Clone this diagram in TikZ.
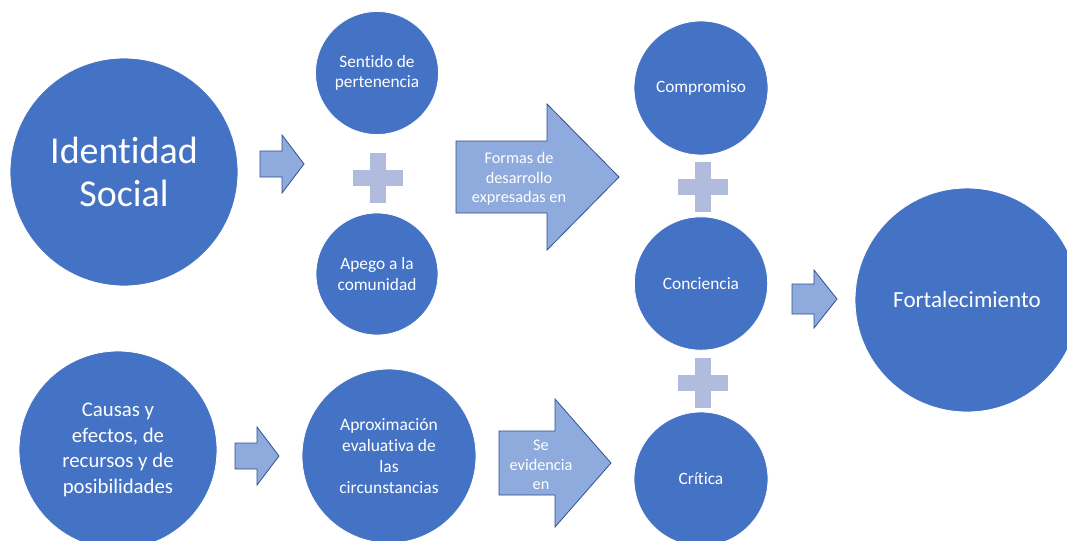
\documentclass[tikz,border=0pt]{standalone}
\usepackage{fontspec}
\setmainfont{Carlito}[Ligatures={NoCommon,NoRare,NoDiscretionary}]
\definecolor{circblue}{HTML}{4472C4}
\definecolor{arrfill}{HTML}{8FAADC}
\definecolor{arrline}{HTML}{2F528F}
\definecolor{plusc}{HTML}{B0BBDD}
\tikzset{
  bubble/.style={circle, fill=circblue, draw=white, line width=0.6pt, inner sep=0pt, text=white, align=center},
  blockarrow/.style={fill=arrfill, draw=arrline, line width=0.6pt, line join=miter},
  plussign/.style={fill=plusc, draw=none},
  arrowtext/.style={text=white, align=center, inner sep=0pt, font=\fontsize{12.2pt}{14.6pt}\selectfont},
  smalltext/.style={font=\fontsize{13pt}{15.3pt}\selectfont},
}
\begin{document}
\begin{tikzpicture}[x=0.75pt, y=-0.75pt]
\useasboundingbox (0,0) rectangle (1067,540);
\clip (0,0) rectangle (1067,540);
\fill[white] (0,0) rectangle (1067,540);

% circles
\node[bubble, minimum size=171pt, font=\fontsize{28.5pt}{32.3pt}\selectfont] (ident) at (124,172) {Identidad\\Social};
\node[bubble, minimum size=92.25pt, smalltext] (sentido) at (377,73) {Sentido de\\pertenencia};
\node[bubble, minimum size=91.5pt, smalltext] (apego) at (377,274) {Apego a la\\comunidad};
\node[bubble, minimum size=148.5pt, font=\fontsize{15.6pt}{19.3pt}\selectfont] (causas) at (118,450) {Causas y\\efectos, de\\recursos y de\\posibilidades};
\node[bubble, minimum size=130.5pt, font=\fontsize{13.1pt}{15.75pt}\selectfont] (aprox) at (389,456) {Aproximación\\evaluativa de\\las\\circunstancias};
\node[bubble, minimum size=100.5pt, smalltext] (compromiso) at (701,88) {Compromiso};
\node[bubble, minimum size=100pt, smalltext] (conciencia) at (701,283.5) {Conciencia};
\node[bubble, minimum size=100.5pt, smalltext] (critica) at (701,479) {Crítica};
\node[bubble, minimum size=168pt, font=\fontsize{17.3pt}{20.8pt}\selectfont] (fortal) at (967,300) {Fortalecimiento};

% block arrows
\draw[blockarrow] (260,151) -- (282,151) -- (282,135) -- (304,164) -- (282,193) -- (282,177) -- (260,177) -- cycle;
\draw[blockarrow] (456,141) -- (547,141) -- (547,104) -- (619,177) -- (547,250) -- (547,213) -- (456,213) -- cycle;
\node[arrowtext] (formas) at (519,179) {Formas de\\desarrollo\\expresadas en};
\draw[blockarrow] (235,443) -- (257,443) -- (257,427) -- (279,456) -- (257,485) -- (257,469) -- (235,469) -- cycle;
\draw[blockarrow] (499,431) -- (555,431) -- (555,399) -- (611,463) -- (555,527) -- (555,495) -- (499,495) -- cycle;
\node[arrowtext] (evid) at (541,465) {Se\\evidencia\\en};
\draw[blockarrow] (792,284) -- (814,284) -- (814,270) -- (837,299) -- (814,328) -- (814,314) -- (792,314) -- cycle;

% plus signs
\foreach \cx/\cy in {377.5/178, 703/187, 703/383}{
  \fill[plussign] (\cx-8,\cy-25) rectangle (\cx+8,\cy+25);
  \fill[plussign] (\cx-25,\cy-8) rectangle (\cx+25,\cy+8);
}
\end{tikzpicture}
\end{document}
